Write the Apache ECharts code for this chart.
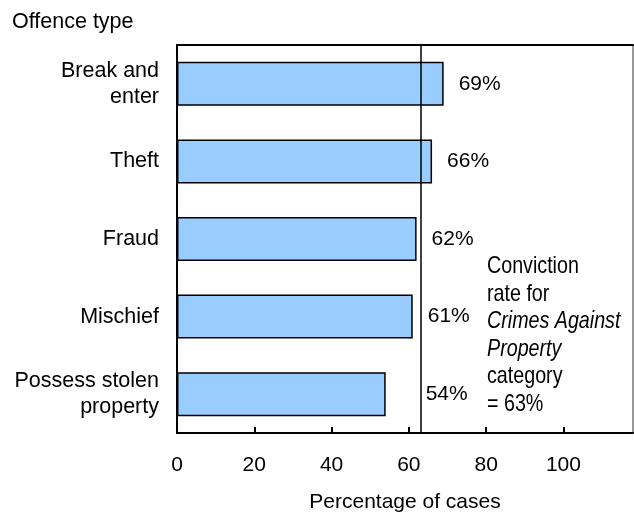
<!DOCTYPE html>
<html>
<head>
<meta charset="utf-8">
<script src="https://cdn.jsdelivr.net/npm/echarts@6/dist/echarts.min.js"></script>
<style>
  html, body { margin: 0; padding: 0; background: #fff; }
  #chart { width: 634px; height: 512px; }
</style>
</head>
<body>
<div id="chart"></div>
<script>
// Conviction rates by offence type, crimes against property
const categories = ['Break and\nenter', 'Theft', 'Fraud', 'Mischief', 'Possess stolen\nproperty'];
const rates = [69, 66, 62, 61, 54];
const categoryRate = 63;
const xTicks = [0, 20, 40, 60, 80, 100];

const FONT = '"Liberation Sans", Arial, sans-serif';

const chart = echarts.init(document.getElementById('chart'), null, { renderer: 'canvas' });

// the shortest bar's label sits clear of the reference line
const barData = rates.map(function (v) {
  return v < 58 ? { value: v, label: { distance: 40 } } : v;
});

chart.setOption({
  animation: false,
  backgroundColor: '#fff',
  title: {
    text: 'Offence type',
    left: 7,
    top: 6,
    textStyle: { fontFamily: FONT, fontSize: 21.5, fontWeight: 'normal', color: '#000' }
  },
  grid: {
    left: 177, right: 1, top: 45, bottom: 79,
    containLabel: false,
    outerBoundsMode: 'none',
    show: true, borderColor: '#333', borderWidth: 1
  },
  xAxis: [{
    type: 'value',
    min: 0, max: 118, interval: 20,
    name: 'Percentage of cases',
    nameLocation: 'middle',
    nameGap: 59,
    nameTextStyle: { fontFamily: FONT, fontSize: 21, color: '#000' },
    axisLine: { show: true, lineStyle: { color: '#000', width: 2 } },
    axisTick: { show: true, inside: true, length: 6, lineStyle: { color: '#000', width: 2 } },
    splitLine: { show: false },
    axisLabel: {
      fontFamily: FONT, fontSize: 21, color: '#000', margin: 22,
      showMaxLabel: false,
      formatter: function (v) { return xTicks.indexOf(v) >= 0 ? String(v) : ''; }
    }
  }, {
    type: 'value',
    position: 'top',
    min: 0, max: 118,
    axisLine: { show: true, lineStyle: { color: '#000', width: 2 } },
    axisTick: { show: false },
    axisLabel: { show: false },
    splitLine: { show: false }
  }],
  yAxis: {
    type: 'category',
    data: categories,
    inverse: true,
    axisLine: { show: true, lineStyle: { color: '#000', width: 2 } },
    axisTick: { show: false },
    axisLabel: {
      fontFamily: FONT, fontSize: 21.5, color: '#000', margin: 18,
      lineHeight: 26, align: 'right'
    }
  },
  series: [{
    type: 'bar',
    data: barData,
    barWidth: 44,
    itemStyle: { color: '#99ccff', borderColor: '#000', borderWidth: 1.5 },
    label: {
      show: true,
      position: 'right',
      distance: 15,
      fontFamily: FONT, fontSize: 21, color: '#000',
      formatter: '{c}%'
    },
    markLine: {
      silent: true,
      symbol: 'none',
      label: { show: false },
      lineStyle: { color: '#000', width: 1.5, type: 'solid' },
      data: [{ xAxis: categoryRate }]
    }
  }],
  graphic: [{
    // condensed annotation: regular face squeezed horizontally
    type: 'text',
    x: 487,
    y: 253,
    scaleX: 0.82,
    style: {
      text: '{n|Conviction}\n{n|rate for}\n{i|Crimes Against}\n{i|Property}\n{n|category}\n{n|= ' + categoryRate + '%}',
      rich: {
        n: { fontFamily: FONT, fontSize: 24, lineHeight: 27.5, fill: '#000' },
        i: { fontFamily: FONT, fontSize: 24, fontStyle: 'italic', lineHeight: 27.5, fill: '#000' }
      }
    }
  }]
});
</script>
</body>
</html>
